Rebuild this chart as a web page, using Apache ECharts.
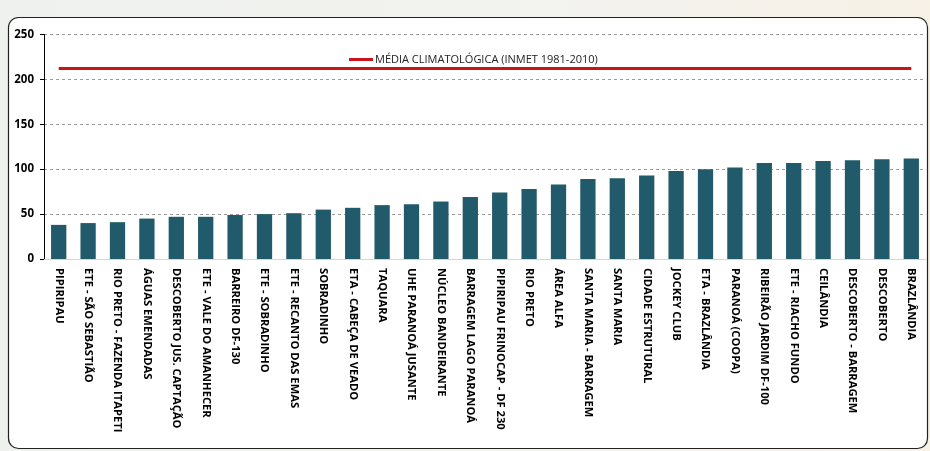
<!DOCTYPE html>
<html>
<head>
<meta charset="utf-8">
<script src="https://cdn.jsdelivr.net/npm/echarts@6/dist/echarts.min.js"></script>
<style>
  html, body { margin: 0; padding: 0; background: #eef1ee; }
  #chart { width: 930px; height: 451px; }
</style>
</head>
<body>
<div id="chart"></div>
<script>
// estações, ordenadas pela precipitação
var estacoes = ['PIPIRIPAU', 'ETE - SÃO SEBASTIÃO', 'RIO PRETO - FAZENDA ITAPETI', 'ÁGUAS EMENDADAS',
  'DESCOBERTO JUS. CAPTAÇÃO', 'ETE - VALE DO AMANHECER', 'BARREIRO DF-130', 'ETE - SOBRADINHO',
  'ETE - RECANTO DAS EMAS', 'SOBRADINHO', 'ETA - CABEÇA DE VEADO', 'TAQUARA', 'UHE PARANOÁ JUSANTE',
  'NÚCLEO BANDEIRANTE', 'BARRAGEM LAGO PARANOÁ', 'PIPIRIPAU FRINOCAP - DF 230', 'RIO PRETO', 'ÁREA ALFA',
  'SANTA MARIA - BARRAGEM', 'SANTA MARIA', 'CIDADE ESTRUTURAL', 'JOCKEY CLUB', 'ETA - BRAZLÂNDIA',
  'PARANOÁ (COOPA)', 'RIBEIRÃO JARDIM DF-100', 'ETE - RIACHO FUNDO', 'CEILÂNDIA', 'DESCOBERTO - BARRAGEM',
  'DESCOBERTO', 'BRAZLÂNDIA'];

var precipitacao = [38, 40, 41, 45, 47, 47, 49, 50, 51, 55, 57, 60, 61, 64, 69, 74, 78, 83, 89, 90,
  93, 98, 100, 102, 107, 107, 109, 110, 111, 112];

// média climatológica (INMET 1981-2010)
var mediaClimatologica = [212, 212, 212, 212, 212, 212, 212, 212, 212, 212, 212, 212, 212, 212, 212,
  212, 212, 212, 212, 212, 212, 212, 212, 212, 212, 212, 212, 212, 212, 212];

var yMin = 0, yMax = 250, yStep = 50;

var myChart = echarts.init(document.getElementById('chart'));
myChart.setOption({
    animation: false,
    graphic: [
        { type: 'rect', z: -10, silent: true,
          shape: { x: 0, y: 0, width: 930, height: 451 },
          style: { fill: new echarts.graphic.LinearGradient(0, 0, 1, 0, [
              { offset: 0, color: '#eef1ee' }, { offset: 0.6, color: '#f3f3ef' }, { offset: 1, color: '#f7f1e6' }]) } },
        { type: 'rect', z: -9, silent: true,
          shape: { x: 8.5, y: 17.5, width: 919, height: 431, r: 10 },
          style: { fill: '#ffffff', stroke: '#222', lineWidth: 1.2 } }
    ],
    legend: {
        left: 344,
        top: 49,
        itemWidth: 24,
        itemHeight: 3,
        itemGap: 4,
        icon: 'rect',
        data: ['MÉDIA CLIMATOLÓGICA (INMET 1981-2010)'],
        textStyle: { fontFamily: 'Open Sans', fontSize: 11, color: '#222', padding: [0, 0, 0, -3] }
    },
    grid: {
        left: 44,
        right: 4,
        top: 34.5,
        bottom: 192
    },
    xAxis: {
        type: 'category',
        data: estacoes,
        axisLine: { lineStyle: { color: '#d6d6d6', width: 1 } },
        axisTick: { show: false },
        axisLabel: {
            interval: 0,
            rotate: -90,
            margin: 9,
            fontFamily: 'Open Sans',
            fontWeight: 'bold',
            fontSize: 11.2,
            color: '#000'
        }
    },
    yAxis: {
        type: 'value',
        min: yMin,
        max: yMax,
        interval: yStep,
        axisLine: { show: true, lineStyle: { color: '#000', width: 1 } },
        axisTick: { show: true, length: 4, lineStyle: { color: '#000' } },
        axisLabel: {
            margin: 10,
            fontFamily: 'Open Sans',
            fontWeight: 'bold',
            fontSize: 11.5,
            color: '#000'
        },
        splitLine: { lineStyle: { color: '#9a9a9a', type: [3, 3], width: 1 } }
    },
    series: [
        {
            name: 'Precipitação',
            type: 'bar',
            data: precipitacao,
            barWidth: '52%',
            itemStyle: { color: '#215a6a' }
        },
        {
            name: 'MÉDIA CLIMATOLÓGICA (INMET 1981-2010)',
            type: 'line',
            data: mediaClimatologica,
            symbol: 'none',
            lineStyle: { color: '#c8141b', width: 3 },
            itemStyle: { color: '#c8141b' }
        }
    ]
});
</script>
</body>
</html>
